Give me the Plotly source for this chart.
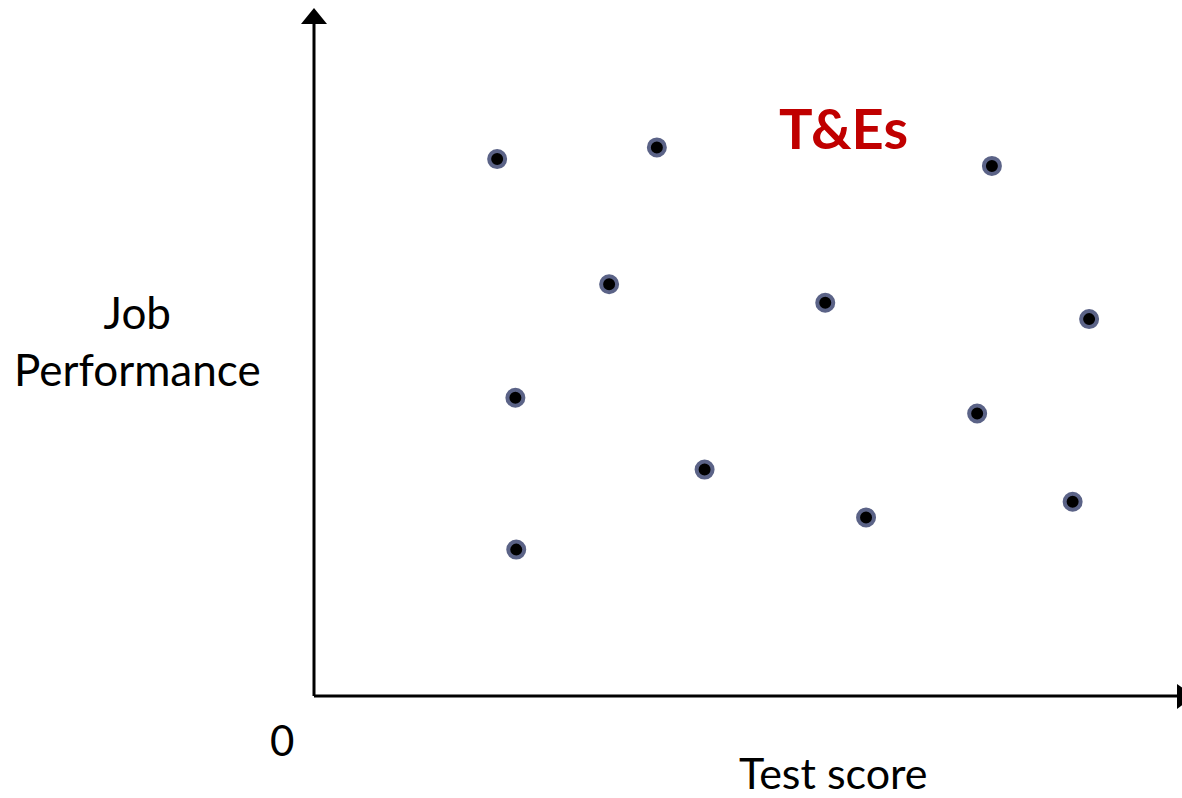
import plotly.graph_objects as go

# Data (x: test score, y: job performance), axes scaled 0-100
test_score = [21.1, 39.5, 78.1, 34.0, 58.9, 89.3, 23.2, 76.4, 45.0, 87.4, 63.6, 23.3]
job_perf = [78.5, 80.2, 77.5, 60.2, 57.5, 55.1, 43.6, 41.3, 33.1, 28.4, 26.1, 21.4]

W, H = 1182, 798
ML, MB, MT = 314, 102, 12
PW, PH = W - ML, H - MT - MB


def px(P):
    """page x pixel -> paper x"""
    return (P - ML) / PW


def py(P):
    """page y pixel -> paper y"""
    return (H - MB - P) / PH


fig = go.Figure()
fig.add_trace(go.Scatter(
    x=test_score, y=job_perf, mode="markers",
    marker=dict(size=16, color="black", line=dict(width=4, color="#5b6387")),
    hoverinfo="x+y", showlegend=False, cliponaxis=False,
))

font = "Lato, 'Open Sans', sans-serif"

fig.update_layout(
    width=W, height=H,
    margin=dict(l=ML, r=0, t=MT, b=MB, pad=0),
    paper_bgcolor="white", plot_bgcolor="white",
    xaxis=dict(range=[0, 100], showgrid=False, zeroline=False, showticklabels=False,
               showline=False, ticks=""),
    yaxis=dict(range=[0, 100], showgrid=False, zeroline=False, showticklabels=False,
               showline=False, ticks=""),
    font=dict(family=font, color="black"),
)

# axis lines
fig.add_shape(type="line", xref="paper", yref="paper", x0=0, x1=px(1180), y0=0, y1=0,
              line=dict(color="black", width=3))
fig.add_shape(type="line", xref="paper", yref="paper", x0=0, x1=0, y0=0, y1=py(24),
              line=dict(color="black", width=3))
# arrowheads (pixel sized, anchored at axis ends)
fig.add_shape(type="path", xref="paper", yref="paper", xsizemode="pixel", ysizemode="pixel",
              xanchor=0, yanchor=py(24), path="M -13 0 L 13 0 L 0 16 Z",
              fillcolor="black", line=dict(width=0))
fig.add_shape(type="path", xref="paper", yref="paper", xsizemode="pixel", ysizemode="pixel",
              xanchor=px(1177), yanchor=0, path="M 0 12 L 0 -13 L 17 0 Z",
              fillcolor="black", line=dict(width=0))

# labels
fig.add_annotation(text="Job<br>Performance", xref="paper", yref="paper",
                   x=px(137), y=py(340),
                   xanchor="center", yanchor="middle", showarrow=False,
                   font=dict(size=44, family=font, color="black"), align="center")
fig.add_annotation(text="0", xref="paper", yref="paper",
                   x=px(282), y=py(740),
                   xanchor="center", yanchor="middle", showarrow=False,
                   font=dict(size=42, family=font, color="black"))
fig.add_annotation(text="Test score", xref="paper", yref="paper",
                   x=px(833), y=py(772),
                   xanchor="center", yanchor="middle", showarrow=False,
                   font=dict(size=43, family=font, color="black"))
fig.add_annotation(text="<b>T&amp;Es</b>", xref="paper", yref="paper",
                   x=px(843), y=py(127),
                   xanchor="center", yanchor="middle", showarrow=False,
                   font=dict(size=56, family=font, color="#C00000"))

fig.write_html(
    "out.html",
    config={"displayModeBar": False},
    post_script="document.body.style.margin='0px';document.body.style.overflow='hidden';",
)
